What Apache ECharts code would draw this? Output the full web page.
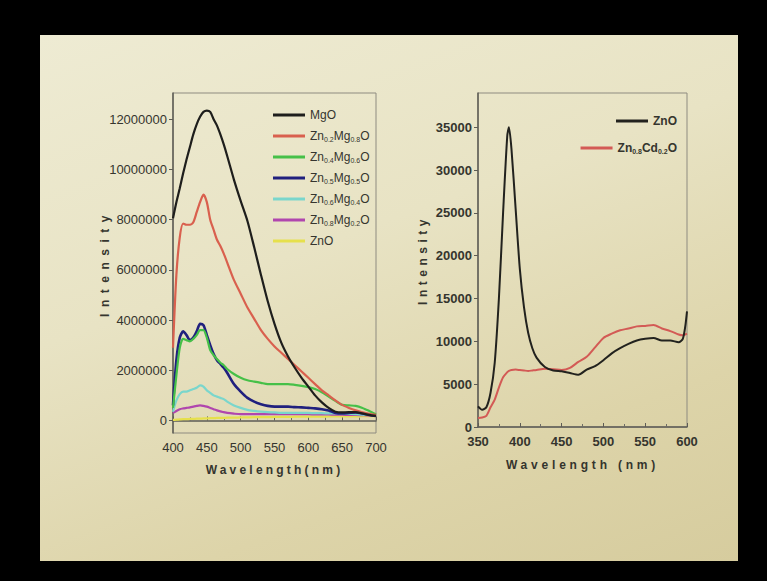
<!DOCTYPE html>
<html>
<head>
<meta charset="utf-8">
<script src="https://cdn.jsdelivr.net/npm/echarts/dist/echarts.min.js"></script>
<style>
  html, body { margin: 0; padding: 0; background: #000; }
  .slide {
    position: absolute;
    left: 40px; top: 35px; width: 698px; height: 526px;
    background: linear-gradient(160deg, #eeebd3 0%, #e8e3c4 40%, #ddd4a9 75%, #d6cc9e 100%);
  }
  #chart { position: absolute; left: 0; top: 0; width: 767px; height: 581px; }
</style>
</head>
<body>
<div class="slide"></div>
<div id="chart"></div>
<script>
// ---- left panel: Zn(x)Mg(1-x)O spectra ----
const wlLeft = [400, 405, 410, 415, 420, 425, 430, 435, 440, 445, 450, 455, 460, 465, 470, 475, 480, 490, 500, 510,
  520, 530, 540, 550, 560, 570, 580, 590, 600, 610, 620, 630, 640, 650, 660, 670, 680, 690, 700];

const mgo = [8.06e6, 8.7e6, 9.25e6, 9.85e6, 10.4e6, 10.9e6, 11.4e6, 11.8e6, 12.1e6, 12.3e6, 12.35e6, 12.3e6, 12.0e6, 11.75e6,
  11.4e6, 11.0e6, 10.55e6, 9.6e6, 8.75e6, 7.95e6, 6.9e6, 5.8e6, 4.75e6, 3.85e6, 3.1e6, 2.55e6, 2.1e6, 1.7e6, 1.35e6,
  1.0e6, 0.72e6, 0.5e6, 0.35e6, 0.32e6, 0.33e6, 0.33e6, 0.28e6, 0.22e6, 0.18e6];
const zn02 = [2.9e6, 5.8e6, 7.3e6, 7.85e6, 7.8e6, 7.8e6, 7.9e6, 8.3e6, 8.7e6, 9.0e6, 8.7e6, 8.0e6, 7.6e6, 7.2e6, 6.95e6,
  6.65e6, 6.3e6, 5.6e6, 5.05e6, 4.5e6, 4.05e6, 3.6e6, 3.25e6, 2.95e6, 2.7e6, 2.45e6, 2.2e6, 1.95e6, 1.7e6, 1.45e6, 1.2e6,
  1.0e6, 0.8e6, 0.62e6, 0.5e6, 0.4e6, 0.32e6, 0.26e6, 0.22e6];
const zn04 = [0.5e6, 1.8e6, 2.9e6, 3.25e6, 3.2e6, 3.15e6, 3.25e6, 3.4e6, 3.6e6, 3.6e6, 3.3e6, 2.8e6, 2.6e6, 2.45e6, 2.3e6,
  2.2e6, 2.05e6, 1.85e6, 1.7e6, 1.6e6, 1.55e6, 1.5e6, 1.45e6, 1.45e6, 1.45e6, 1.45e6, 1.42e6, 1.38e6, 1.33e6, 1.25e6,
  1.12e6, 0.95e6, 0.78e6, 0.62e6, 0.6e6, 0.58e6, 0.5e6, 0.38e6, 0.25e6];
const zn05 = [0.6e6, 2.4e6, 3.3e6, 3.55e6, 3.4e6, 3.2e6, 3.3e6, 3.55e6, 3.85e6, 3.8e6, 3.4e6, 3.0e6, 2.65e6, 2.4e6, 2.25e6,
  2.1e6, 1.9e6, 1.45e6, 1.15e6, 0.9e6, 0.75e6, 0.65e6, 0.58e6, 0.55e6, 0.55e6, 0.55e6, 0.53e6, 0.52e6, 0.5e6, 0.48e6,
  0.45e6, 0.4e6, 0.3e6, 0.28e6, 0.3e6, 0.32e6, 0.28e6, 0.22e6, 0.18e6];
const zn06 = [0.35e6, 0.8e6, 1.05e6, 1.15e6, 1.15e6, 1.2e6, 1.25e6, 1.3e6, 1.4e6, 1.35e6, 1.2e6, 1.1e6, 1.0e6, 0.95e6, 0.9e6,
  0.85e6, 0.75e6, 0.6e6, 0.5e6, 0.42e6, 0.38e6, 0.35e6, 0.33e6, 0.32e6, 0.3e6, 0.3e6, 0.3e6, 0.3e6, 0.3e6, 0.29e6,
  0.29e6, 0.28e6, 0.28e6, 0.27e6, 0.26e6, 0.25e6, 0.23e6, 0.22e6, 0.2e6];
const zn08 = [0.3e6, 0.38e6, 0.45e6, 0.48e6, 0.5e6, 0.52e6, 0.55e6, 0.58e6, 0.6e6, 0.58e6, 0.55e6, 0.5e6, 0.45e6, 0.4e6,
  0.36e6, 0.33e6, 0.3e6, 0.27e6, 0.25e6, 0.25e6, 0.25e6, 0.25e6, 0.25e6, 0.25e6, 0.25e6, 0.25e6, 0.25e6, 0.25e6, 0.25e6,
  0.24e6, 0.24e6, 0.24e6, 0.23e6, 0.23e6, 0.22e6, 0.22e6, 0.21e6, 0.2e6, 0.2e6];
const znoLeft = [0.02e6, 0.03e6, 0.04e6, 0.05e6, 0.05e6, 0.06e6, 0.06e6, 0.07e6, 0.07e6, 0.08e6, 0.08e6, 0.09e6, 0.09e6,
  0.1e6, 0.1e6, 0.1e6, 0.11e6, 0.11e6, 0.12e6, 0.12e6, 0.13e6, 0.13e6, 0.13e6, 0.14e6, 0.14e6, 0.14e6, 0.15e6, 0.15e6,
  0.15e6, 0.15e6, 0.15e6, 0.16e6, 0.16e6, 0.16e6, 0.16e6, 0.16e6, 0.17e6, 0.17e6, 0.17e6];

const leftNames = ['MgO', 'Zn0.2Mg0.8O', 'Zn0.4Mg0.6O', 'Zn0.5Mg0.5O', 'Zn0.6Mg0.4O', 'Zn0.8Mg0.2O', 'ZnO'];
const leftTicks = [0, 2000000, 4000000, 6000000, 8000000, 10000000, 12000000];

// ---- right panel: ZnO vs Zn0.8Cd0.2O ----
const wlRight = [350, 355, 360, 365, 370, 375, 380, 385, 387, 390, 395, 400, 405, 410, 415, 420, 430, 440, 450, 460, 470,
  480, 490, 500, 510, 520, 530, 540, 550, 560, 570, 580, 590, 595, 598, 600];
const znoRight = [2400, 2000, 2300, 4000, 7500, 15000, 25000, 34000, 35000, 32500, 25500, 18500, 14000, 11000, 9200, 8100,
  7000, 6600, 6500, 6300, 6100, 6700, 7100, 7800, 8600, 9200, 9700, 10100, 10300, 10400, 10100, 10100, 9900, 10300,
  11800, 13500];
const znCd = [1050, 1100, 1300, 2300, 3200, 4600, 5800, 6400, 6550, 6650, 6700, 6650, 6600, 6550, 6600, 6650, 6800, 6750,
  6650, 6900, 7600, 8200, 9300, 10400, 10900, 11300, 11500, 11750, 11800, 11900, 11500, 11200, 10800, 10700, 10800, 10900];
const rightNames = ['ZnO ', 'Zn0.8Cd0.2O'];
const rightTicks = [0, 5000, 10000, 15000, 20000, 25000, 30000, 35000];

const leftColors = ['#1e1e1c', '#d9604e', '#46c048', '#20207e', '#7ad6cc', '#b046ae', '#e6e04c'];
const rightColors = ['#22221e', '#d35a55'];

function pairs(xs, ys) {
  return xs.map((x, i) => [x, ys[i]]);
}

// subscripts in the legend: Zn0.2Mg0.8O -> Zn{s|0.2}Mg{s|0.8}O
function subFmt(name) {
  return name.trim().replace(/(\d\.\d)/g, '{s|$1}');
}

// plain numbers on the axes, no thousands separators
function plain(v) {
  return String(v);
}

let myChart = echarts.init(document.getElementById('chart'), null, { renderer: 'svg' });

const txt = '#35352e';
const labelFont = 'Liberation Sans';

const leftData = [mgo, zn02, zn04, zn05, zn06, zn08, znoLeft];

let option = {
  animation: false,
  backgroundColor: 'transparent',
  grid: [
    { left: 173, top: 93, right: 391, bottom: 148, show: true, borderColor: '#8e8b80', borderWidth: 1 },
    { left: 478, top: 93, right: 80, bottom: 154, show: true, borderColor: '#8e8b80', borderWidth: 1 },
  ],
  legend: [
    {
      data: leftNames,
      orient: 'vertical',
      left: 268,
      top: 103,
      itemWidth: 32,
      itemHeight: 3,
      itemGap: 7,
      icon: 'rect',
      formatter: subFmt,
      textStyle: {
        fontSize: 12,
        lineHeight: 14,
        color: txt,
        fontFamily: 'Liberation Sans Narrow, Liberation Sans',
        rich: {
          s: { fontSize: 7, lineHeight: 8, verticalAlign: 'bottom', color: txt, fontFamily: 'Liberation Sans' },
        },
      },
    },
    {
      data: [rightNames[0]],
      right: 85,
      top: 109,
      itemWidth: 32,
      itemHeight: 3,
      icon: 'rect',
      formatter: subFmt,
      textStyle: { fontSize: 12, lineHeight: 14, color: txt, fontWeight: 'bold', fontFamily: labelFont },
    },
    {
      data: [rightNames[1]],
      right: 85,
      top: 136,
      itemWidth: 32,
      itemHeight: 3,
      icon: 'rect',
      formatter: subFmt,
      textStyle: {
        fontSize: 12,
        lineHeight: 14,
        color: txt,
        fontWeight: 'bold',
        fontFamily: labelFont,
        rich: {
          s: { fontSize: 7, lineHeight: 8, verticalAlign: 'bottom', color: txt, fontWeight: 'bold', fontFamily: labelFont },
        },
      },
    },
  ],
  xAxis: [
    {
      gridIndex: 0,
      type: 'value',
      min: 400,
      max: 700,
      interval: 50,
      name: 'Wavelength(nm)',
      nameLocation: 'middle',
      nameGap: 31,
      nameMoveOverlap: false,
      nameTextStyle: { fontSize: 12, fontWeight: 'bold', color: txt, fontFamily: labelFont },
      axisLine: { lineStyle: { color: '#5e5c55', width: 1.5 } },
      axisTick: { inside: true, length: 4, lineStyle: { color: '#5e5c55' } },
      minorTick: { show: true, splitNumber: 2, length: 3, lineStyle: { color: '#6e6c65' } },
      axisLabel: { margin: 8, fontSize: 13, color: txt, fontFamily: labelFont, formatter: plain },
      splitLine: { show: false },
    },
    {
      gridIndex: 1,
      type: 'value',
      min: 350,
      max: 600,
      interval: 50,
      name: 'Wavelength (nm)',
      nameLocation: 'middle',
      nameGap: 32,
      nameMoveOverlap: false,
      nameTextStyle: { fontSize: 12, fontWeight: 'bold', color: txt, fontFamily: labelFont },
      axisLine: { lineStyle: { color: '#5e5c55', width: 1.5 } },
      axisTick: { inside: true, length: 4, lineStyle: { color: '#5e5c55' } },
      minorTick: { show: true, splitNumber: 2, length: 3, lineStyle: { color: '#6e6c65' } },
      axisLabel: { margin: 8, fontSize: 13, fontWeight: 'bold', color: txt, fontFamily: labelFont, formatter: plain },
      splitLine: { show: false },
    },
  ],
  yAxis: [
    {
      gridIndex: 0,
      type: 'value',
      min: -500000,
      max: 13050000,
      name: 'Intensity',
      nameLocation: 'middle',
      nameGap: 62,
      nameMoveOverlap: false,
      nameTextStyle: { fontSize: 12, fontWeight: 'bold', color: txt, fontFamily: labelFont },
      axisLine: { show: true, lineStyle: { color: '#5e5c55', width: 1.5 } },
      axisTick: { show: true, length: 4, customValues: leftTicks, lineStyle: { color: '#5e5c55' } },
      axisLabel: { margin: 6, fontSize: 13, color: txt, fontFamily: labelFont, customValues: leftTicks, formatter: plain },
      splitLine: { show: false },
    },
    {
      gridIndex: 1,
      type: 'value',
      min: 0,
      max: 39000,
      name: 'Intensity',
      nameLocation: 'middle',
      nameGap: 49,
      nameMoveOverlap: false,
      nameTextStyle: { fontSize: 12, fontWeight: 'bold', color: txt, fontFamily: labelFont },
      axisLine: { show: true, lineStyle: { color: '#5e5c55', width: 1.5 } },
      axisTick: { show: true, length: 4, customValues: rightTicks, lineStyle: { color: '#5e5c55' } },
      axisLabel: {
        margin: 6, fontSize: 13, fontWeight: 'bold', color: txt, fontFamily: labelFont,
        customValues: rightTicks, formatter: plain,
      },
      splitLine: { show: false },
    },
  ],
  series: [],
};

// left series
leftNames.forEach((name, i) => {
  option.series.push({
    name: name,
    type: 'line',
    xAxisIndex: 0,
    yAxisIndex: 0,
    showSymbol: false,
    symbol: 'none',
    smooth: 0.25,
    color: leftColors[i],
    lineStyle: { width: i === 3 ? 2.6 : 2.2, color: leftColors[i] },
    data: pairs(wlLeft, leftData[i]),
    z: 10 - i,
  });
});

// right series
[znoRight, znCd].forEach((vals, i) => {
  option.series.push({
    name: rightNames[i],
    type: 'line',
    xAxisIndex: 1,
    yAxisIndex: 1,
    showSymbol: false,
    symbol: 'none',
    smooth: 0.25,
    color: rightColors[i],
    lineStyle: { width: 2, color: rightColors[i] },
    data: pairs(wlRight, vals),
    z: 10 - i,
  });
});

myChart.setOption(option, true);

// the slide has very wide letter spacing on the axis titles
function spaceTitles() {
  const spacing = { 'Wavelength(nm)': '3.2px', 'Wavelength (nm)': '3.8px' };
  let n = 0;
  document.querySelectorAll('#chart text').forEach((t) => {
    const s = t.textContent;
    if (s === 'Intensity') {
      // first one is the left panel
      t.style.letterSpacing = n === 0 ? '6.5px' : '4.5px';
      n++;
    } else if (spacing[s]) {
      t.style.letterSpacing = spacing[s];
    }
  });
}
spaceTitles();
myChart.on('finished', spaceTitles);
</script>
</body>
</html>
